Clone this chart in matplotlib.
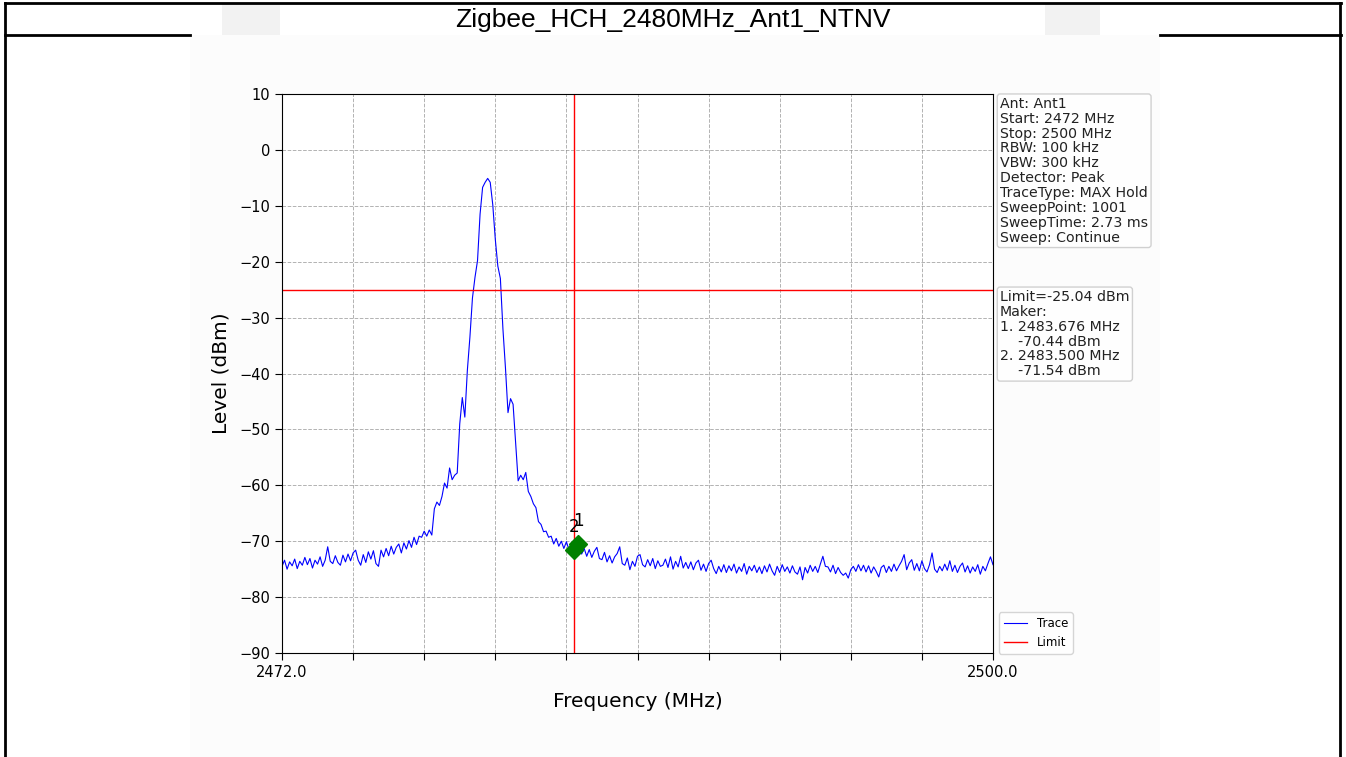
import numpy as np
import matplotlib
matplotlib.use("Agg")
import matplotlib.pyplot as plt
from matplotlib.lines import Line2D
from matplotlib.patches import Rectangle

title = "Zigbee_HCH_2480MHz_Ant1_NTNV"
start_mhz = 2472.0
stop_mhz = 2500.0
step_mhz = 0.1
limit_dbm = -25.04

levels = [
    # 2472.0 - 2475.9
    -74.5, -73.4, -75.0, -73.7, -74.4, -73.2, -74.9, -73.6, -74.3, -72.9,
    -74.2, -73.1, -74.8, -73.4, -74.1, -72.8, -74.5, -73.4, -71.0, -73.6,
    -74.0, -72.6, -73.8, -74.3, -72.5, -73.7, -72.3, -73.5, -72.1, -71.6,
    -73.4, -74.3, -72.4, -73.8, -71.9, -73.2, -71.7, -74.0, -74.5, -71.6,
    # 2476.0 - 2477.5
    -72.8, -71.3, -72.6, -70.9, -72.3, -71.1, -70.5, -72.1, -70.3, -71.4,
    -69.9, -71.1, -69.3, -70.6, -69.1, -69.3,
    # 2477.6 - 2483.7
    -68.2, -69.1, -68.0, -68.9, -64.2, -63.0, -63.6, -62.0, -59.6, -60.5,
    -56.9, -59.0, -58.2, -57.8, -49.0, -44.3, -47.8, -39.4, -33.5, -26.5,
    -22.8, -19.8, -11.5, -6.7, -5.8, -5.1, -5.8, -9.8, -16.0, -20.8,
    -23.0, -32.0, -39.0, -47.0, -44.5, -45.5, -52.5, -59.2, -58.2, -59.0,
    -57.7, -61.1, -62.0, -63.3, -64.0, -66.5, -67.0, -68.3, -68.2, -69.3,
    -69.1, -70.5, -69.5, -70.9, -70.0, -71.3, -70.1, -71.5, -70.6, -71.54,
    -70.8, -70.5,
    # 2483.8 - 2500.0
    -72.3, -71.3, -72.7, -71.5, -72.9, -71.8, -71.1, -73.1, -73.3, -72.0, -73.7, -72.6,
    -73.9, -72.8, -72.2, -71.0, -74.0, -74.3, -73.0, -75.1, -73.6, -74.5,
    -72.7, -72.4, -74.2, -74.6, -73.3, -74.4, -73.1, -74.9, -73.5, -74.5,
    -74.3, -73.2, -74.7, -72.8, -75.0, -73.6, -74.6, -72.7, -74.8, -73.8,
    -74.9, -73.7, -75.1, -73.9, -73.4, -75.2, -74.1, -75.4, -74.0, -73.4,
    -74.9, -75.8, -74.5, -75.5, -74.2, -75.6, -74.4, -75.3, -74.1, -75.7,
    -74.6, -75.4, -74.0, -75.9, -74.5, -75.3, -74.3, -75.6, -74.6, -75.8,
    -74.4, -75.5, -74.1, -75.3, -76.1, -74.5, -75.6, -74.2, -75.4, -74.6,
    -75.7, -74.4, -75.5, -75.9, -74.6, -76.9, -74.7, -75.7, -74.3, -75.4,
    -74.5, -75.6, -74.1, -72.7, -74.5, -74.6, -75.5, -74.3, -75.8, -74.7,
    -75.6, -76.1, -75.7, -76.6, -75.1, -74.5, -75.4, -74.2, -75.3, -74.3,
    -75.5, -74.4, -75.7, -74.6, -75.4, -76.4, -74.7, -74.3, -75.6, -74.5,
    -75.4, -74.1, -75.3, -74.4, -73.6, -72.4, -75.1, -73.9, -73.3, -75.2,
    -74.0, -75.3, -73.5, -74.9, -75.5, -74.2, -72.1, -75.0, -75.6, -74.5,
    -75.3, -74.1, -75.2, -73.5, -75.4, -74.3, -75.6, -74.5, -73.9, -75.5,
    -74.4, -75.7, -74.6, -75.4, -74.2, -75.9, -74.5, -75.3, -74.0, -72.8,
    -74.2,
]

marker_labels = ["1", "2"]
marker_freqs = [2483.676, 2483.500]
marker_levels = [-70.44, -71.54]

info_lines = [
    "Ant: Ant1", "Start: 2472 MHz", "Stop: 2500 MHz", "RBW: 100 kHz",
    "VBW: 300 kHz", "Detector: Peak", "TraceType: MAX Hold",
    "SweepPoint: 1001", "SweepTime: 2.73 ms", "Sweep: Continue",
]
limit_lines = [
    "Limit=-25.04 dBm", "Maker:",
    "1. 2483.676 MHz", "    -70.44 dBm",
    "2. 2483.500 MHz", "    -71.54 dBm",
]

y_ticks = [10, 0, -10, -20, -30, -40, -50, -60, -70, -80, -90]

n = len(levels)
freqs = start_mhz + step_mhz * np.arange(n)

W, H = 1346, 757
fig = plt.figure(figsize=(W / 100, H / 100), dpi=100)
fig.patch.set_facecolor("white")

def px(x0, y0, w, h):
    return (x0 / W, 1 - (y0 + h) / H, w / W, h / H)

# inner image background and faint watermark blocks
fig.add_artist(Rectangle((190 / W, 0), (1160 - 190) / W, 1 - 35 / H,
                         transform=fig.transFigure, facecolor="#fcfcfc",
                         edgecolor="none", zorder=0))
for (bx, bw) in [(222, 58), (1045, 55)]:
    fig.add_artist(Rectangle((bx / W, 1 - 35 / H), bw / W, 31 / H,
                             transform=fig.transFigure, facecolor="#f2f2f2",
                             edgecolor="none", zorder=0))

# frame lines
def hline(y, x0, x1, lw=2):
    fig.add_artist(Line2D([x0 / W, x1 / W], [1 - y / H, 1 - y / H],
                          transform=fig.transFigure, color="black", lw=lw))

def vline(x, y0, y1, lw=2):
    fig.add_artist(Line2D([x / W, x / W], [1 - y0 / H, 1 - y1 / H],
                          transform=fig.transFigure, color="black", lw=lw))

hline(3, 5, 1341)
hline(35, 5, 190)
hline(35, 1160, 1341)
vline(5, 3, 757)
vline(1340, 3, 757)

fig.text(0.5 * (5 + 1340) / W, 1 - 20 / H, title, ha="center", va="center",
         fontsize=19, family="Liberation Sans")

ax = fig.add_axes(px(282, 94, 711, 559))
ax.plot(freqs, levels, color="blue", lw=0.8, label="Trace")
ax.axhline(limit_dbm, color="red", lw=1, label="Limit")
ax.axvline(2483.5, color="red", lw=1)
ax.plot(marker_freqs, marker_levels, linestyle="none", marker="D",
        color="green", markersize=9.5)
for lab, f, v in zip(marker_labels, marker_freqs, marker_levels):
    ax.annotate(lab, (f, v), xytext=(0, 10), textcoords="offset points",
                ha="center", va="bottom", fontsize=12)

ax.set_xlim(start_mhz, stop_mhz)
ax.set_ylim(-90, 10)
xt = np.linspace(start_mhz, stop_mhz, 11)
ax.set_xticks(xt)
ax.set_xticklabels([f"{start_mhz:.1f}"] + [""] * 9 + [f"{stop_mhz:.1f}"])
ax.set_yticks(y_ticks)
ax.tick_params(labelsize=10.5, length=5)
ax.grid(True, linestyle="--", color="gray", alpha=0.6, lw=0.7)
ax.set_xlabel("Frequency (MHz)", fontsize=14.5, labelpad=9)
ax.set_ylabel("Level (dBm)", fontsize=14.5, labelpad=6)

box = dict(boxstyle="round,pad=0.2", facecolor="white", edgecolor="#cccccc", alpha=0.9)
ax.text(1.01, 0.995, "\n".join(info_lines), transform=ax.transAxes,
        ha="left", va="top", fontsize=10.2, color="#222222", bbox=box,
        linespacing=1.08)
ylim_frac = (limit_dbm + 90) / 100
ax.text(1.01, ylim_frac, "\n".join(limit_lines), transform=ax.transAxes,
        ha="left", va="top", fontsize=10.2, color="#222222", bbox=box,
        linespacing=1.08)
ax.legend(loc="lower left", bbox_to_anchor=(1.0, -0.012), fontsize=8.5,
          frameon=True, framealpha=0.8)

fig.savefig("out.png", dpi=100)
